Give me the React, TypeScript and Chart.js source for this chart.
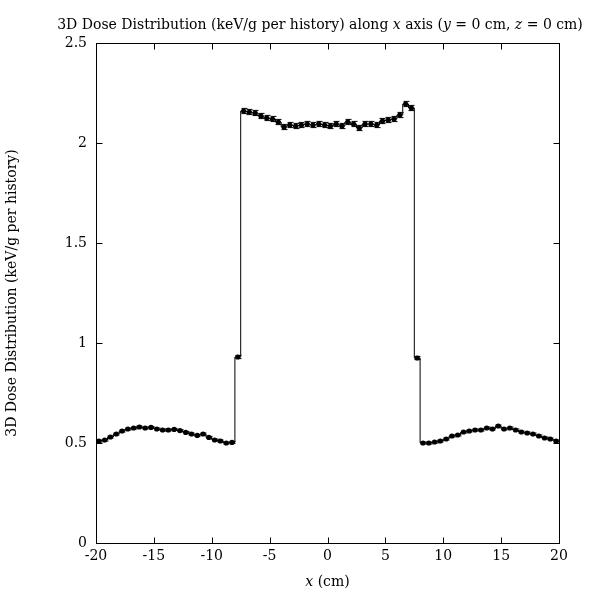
import React, { useEffect, useRef } from "react";
import { Chart, registerables } from "chart.js";

Chart.register(...registerables);

// Bin centres along x (cm), 0.5 cm bins from -20 to 20
const binCenters = [
  -19.75, -19.25, -18.75, -18.25, -17.75, -17.25, -16.75, -16.25, -15.75, -15.25,
  -14.75, -14.25, -13.75, -13.25, -12.75, -12.25, -11.75, -11.25, -10.75, -10.25,
  -9.75, -9.25, -8.75, -8.25, -7.75, -7.25, -6.75, -6.25, -5.75, -5.25,
  -4.75, -4.25, -3.75, -3.25, -2.75, -2.25, -1.75, -1.25, -0.75, -0.25,
  0.25, 0.75, 1.25, 1.75, 2.25, 2.75, 3.25, 3.75, 4.25, 4.75,
  5.25, 5.75, 6.25, 6.75, 7.25, 7.75, 8.25, 8.75, 9.25, 9.75,
  10.25, 10.75, 11.25, 11.75, 12.25, 12.75, 13.25, 13.75, 14.25, 14.75,
  15.25, 15.75, 16.25, 16.75, 17.25, 17.75, 18.25, 18.75, 19.25, 19.75,
];

// Dose values (keV/g per history)
const dose = [
  0.51, 0.515, 0.53, 0.545, 0.56, 0.57, 0.575, 0.58, 0.575, 0.578,
  0.57, 0.565, 0.565, 0.568, 0.562, 0.553, 0.545, 0.538, 0.545, 0.528,
  0.515, 0.51, 0.5, 0.503, 0.93, 2.16, 2.155, 2.15, 2.135, 2.125,
  2.12, 2.105, 2.08, 2.09, 2.085, 2.09, 2.095, 2.09, 2.095, 2.09,
  2.085, 2.095, 2.085, 2.105, 2.095, 2.075, 2.095, 2.095, 2.09, 2.11,
  2.115, 2.12, 2.14, 2.195, 2.175, 0.925, 0.5, 0.5, 0.505, 0.51,
  0.52, 0.535, 0.54, 0.555, 0.56, 0.565, 0.565, 0.575, 0.57, 0.585,
  0.57, 0.575, 0.565, 0.555, 0.55, 0.545, 0.535, 0.525, 0.52, 0.51,
];

// Statistical uncertainties
const doseErr = [
  0.005, 0.005, 0.005, 0.005, 0.005, 0.005, 0.005, 0.005, 0.005, 0.005,
  0.005, 0.005, 0.005, 0.005, 0.005, 0.005, 0.005, 0.005, 0.005, 0.005,
  0.005, 0.005, 0.005, 0.005, 0.008, 0.013, 0.013, 0.013, 0.013, 0.013,
  0.013, 0.013, 0.013, 0.013, 0.013, 0.013, 0.013, 0.013, 0.013, 0.013,
  0.013, 0.013, 0.013, 0.013, 0.013, 0.013, 0.013, 0.013, 0.013, 0.013,
  0.013, 0.013, 0.013, 0.013, 0.013, 0.008, 0.005, 0.005, 0.005, 0.005,
  0.005, 0.005, 0.005, 0.005, 0.005, 0.005, 0.005, 0.005, 0.005, 0.005,
  0.005, 0.005, 0.005, 0.005, 0.005, 0.005, 0.005, 0.005, 0.005, 0.005,
];

const xTicks = [-20, -15, -10, -5, 0, 5, 10, 15, 20];
const yTicks = [0, 0.5, 1, 1.5, 2, 2.5];
const binHalfWidth = 0.25;

const titleParts: [string, boolean][] = [
  ["3D Dose Distribution (keV/g per history) along ", false],
  ["x", true],
  [" axis (", false],
  ["y", true],
  [" = 0 cm, ", false],
  ["z", true],
  [" = 0 cm)", false],
];
const xLabelParts: [string, boolean][] = [
  ["x", true],
  [" (cm)", false],
];
const yLabel = "3D Dose Distribution (keV/g per history)";

const FONT = "'DejaVu Serif', serif";
const FS = 14;

function drawParts(ctx: CanvasRenderingContext2D, parts: [string, boolean][], cx: number, cy: number) {
  let total = 0;
  const widths: number[] = [];
  for (const [t, it] of parts) {
    ctx.font = `${it ? "italic " : ""}${FS}px ${FONT}`;
    const w = ctx.measureText(t).width;
    widths.push(w);
    total += w;
  }
  let x = cx - total / 2;
  ctx.textBaseline = "middle";
  ctx.textAlign = "left";
  parts.forEach(([t, it], i) => {
    ctx.font = `${it ? "italic " : ""}${FS}px ${FONT}`;
    ctx.fillText(t, x, cy);
    x += widths[i];
  });
}

const decorPlugin = {
  id: "decor",
  afterDatasetsDraw(chart: any) {
    const ctx = chart.ctx as CanvasRenderingContext2D;
    const xs = chart.scales.x;
    const ys = chart.scales.y;
    ctx.save();
    ctx.strokeStyle = "#000";
    ctx.lineWidth = 1;
    for (let i = 0; i < binCenters.length; i++) {
      const px = Math.round(xs.getPixelForValue(binCenters[i])) + 0.5;
      const y1 = ys.getPixelForValue(dose[i] - doseErr[i]);
      const y2 = ys.getPixelForValue(dose[i] + doseErr[i]);
      ctx.beginPath();
      ctx.moveTo(px, y1);
      ctx.lineTo(px, y2);
      ctx.moveTo(px - 3, y1);
      ctx.lineTo(px + 3, y1);
      ctx.moveTo(px - 3, y2);
      ctx.lineTo(px + 3, y2);
      ctx.stroke();
    }
    ctx.restore();
  },
  afterDraw(chart: any) {
    const ctx = chart.ctx as CanvasRenderingContext2D;
    const xs = chart.scales.x;
    const ys = chart.scales.y;
    const { left, right, top, bottom } = chart.chartArea;
    ctx.save();
    ctx.strokeStyle = "#000";
    ctx.lineWidth = 1;
    const L = Math.round(left) + 0.5;
    const R = Math.round(right) + 0.5;
    const T = Math.round(top) + 0.5;
    const B = Math.round(bottom) + 0.5;
    ctx.strokeRect(L, T, R - L, B - T);
    const tl = 6;
    ctx.beginPath();
    for (const v of xTicks) {
      const px = Math.round(xs.getPixelForValue(v)) + 0.5;
      ctx.moveTo(px, B);
      ctx.lineTo(px, B - tl);
      ctx.moveTo(px, T);
      ctx.lineTo(px, T + tl);
    }
    for (const v of yTicks) {
      const py = Math.round(ys.getPixelForValue(v)) + 0.5;
      ctx.moveTo(L, py);
      ctx.lineTo(L + tl, py);
      ctx.moveTo(R, py);
      ctx.lineTo(R - tl, py);
    }
    ctx.stroke();

    ctx.fillStyle = "#000";
    drawParts(ctx, titleParts, 320, 25);
    drawParts(ctx, xLabelParts, (left + right) / 2, 582);
    ctx.translate(12, (top + bottom) / 2);
    ctx.rotate(-Math.PI / 2);
    ctx.font = `${FS}px ${FONT}`;
    ctx.textAlign = "center";
    ctx.textBaseline = "middle";
    ctx.fillText(yLabel, 0, 0);
    ctx.restore();
  },
};

export default function App() {
  const ref = useRef<HTMLCanvasElement | null>(null);
  useEffect(() => {
    document.body.style.margin = "0";
    const canvas = ref.current;
    if (!canvas) return;
    const stepData = binCenters.map((c, i) => ({ x: c - binHalfWidth, y: dose[i] }));
    stepData.push({ x: binCenters[binCenters.length - 1] + binHalfWidth, y: dose[dose.length - 1] });
    const pts = binCenters.map((c, i) => ({ x: c, y: dose[i] }));
    const chart = new Chart(canvas, {
      type: "scatter",
      data: {
        datasets: [
          {
            type: "line",
            data: stepData,
            stepped: "before",
            borderColor: "#000",
            borderWidth: 1,
            pointRadius: 0,
            fill: false,
          } as any,
          {
            type: "scatter",
            data: pts,
            pointRadius: 2.6,
            pointStyle: "circle",
            backgroundColor: "#000",
            borderColor: "#000",
            borderWidth: 0,
          } as any,
        ],
      },
      options: {
        animation: false,
        responsive: false,
        devicePixelRatio: 1,
        layout: { padding: { top: 43, right: 38, left: 0, bottom: 0 } },
        plugins: { legend: { display: false }, tooltip: { enabled: false }, title: { display: false } },
        scales: {
          x: {
            type: "linear",
            min: -20,
            max: 20,
            afterBuildTicks: (s: any) => {
              s.ticks = xTicks.map((v) => ({ value: v }));
            },
            afterFit: (s: any) => {
              s.height = 56;
            },
            ticks: {
              color: "#000",
              font: { family: FONT, size: FS },
              padding: 5,
              maxRotation: 0,
              autoSkip: false,
              callback: (v: any) => String(v),
            },
            grid: { display: false, drawTicks: false },
            border: { display: false },
          },
          y: {
            type: "linear",
            min: 0,
            max: 2.5,
            afterBuildTicks: (s: any) => {
              s.ticks = yTicks.map((v) => ({ value: v }));
            },
            afterFit: (s: any) => {
              s.width = 96;
            },
            ticks: {
              color: "#000",
              font: { family: FONT, size: FS },
              padding: 9,
              autoSkip: false,
              callback: (v: any) => String(v),
            },
            grid: { display: false, drawTicks: false },
            border: { display: false },
          },
        },
      },
      plugins: [decorPlugin],
    });
    return () => chart.destroy();
  }, []);
  return (
    <div style={{ width: 597, height: 599, background: "#fff" }}>
      <canvas ref={ref} width={597} height={599} style={{ display: "block", width: 597, height: 599 }} />
    </div>
  );
}
